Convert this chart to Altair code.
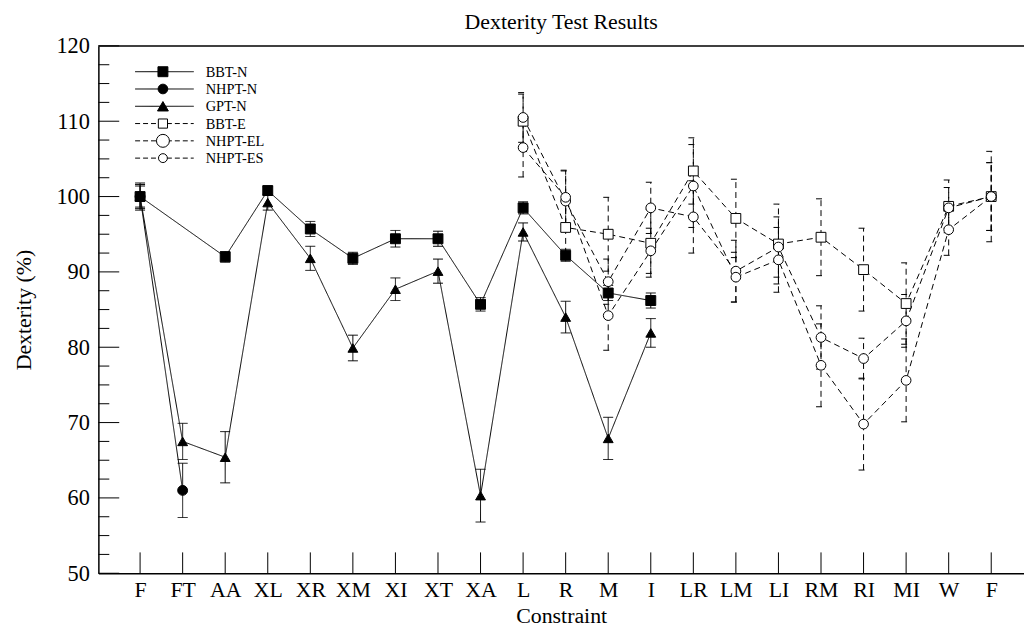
import altair as alt
import pandas as pd

# ---------------- data ----------------
labels = ["F", "FT", "AA", "XL", "XR", "XM", "XI", "XT", "XA", "L", "R", "M", "I",
          "LR", "LM", "LI", "RM", "RI", "MI", "W", "F"]
series_names = ["BBT-N", "NHPT-N", "GPT-N", "BBT-E", "NHPT-EL", "NHPT-ES"]
N = None

bbt_n = [100.0, N, 92.0, 100.8, 95.7, 91.8, 94.4, 94.4, 85.7, 98.5, 92.2, 87.2, 86.2] + [N] * 8
bbt_n_err = [1.6, N, 0.7, 0.5, 1.0, 0.8, 1.1, 1.0, 0.9, 0.8, 0.8, 1.0, 1.0] + [N] * 8

nhpt_n = [100.0, 61.0] + [N] * 19
nhpt_n_err = [1.4, 3.6] + [N] * 19

gpt_n = [100.0, 67.5, 65.4, 99.2, 91.8, 79.9, 87.7, 90.1, 60.3, 95.3, 84.0, 67.9, 81.9] + [N] * 8
gpt_n_err = [1.8, 2.4, 3.4, 1.0, 1.6, 1.7, 1.5, 1.6, 3.5, 1.2, 2.1, 2.8, 1.9] + [N] * 8

bbt_e = [N] * 9 + [110.0, 95.9, 95.0, 93.8, 103.4, 97.1, 93.7, 94.6, 90.3, 85.8, 98.7, 100.0]
bbt_e_err = [N] * 9 + [3.6, 3.5, 4.9, 4.5, 4.4, 5.2, 5.3, 5.1, 5.5, 5.4, 3.5, 6.0]

nhpt_el = [N] * 9 + [110.5, 99.4, 88.7, 98.5, 97.3, 90.1, 93.3, 81.3, 78.5, 83.5, 98.5, 100.0]
nhpt_el_err = [N] * 9 + [3.3, 4.0, 3.0, 3.4, 4.8, 4.1, 4.0, 4.2, 2.7, 3.5, 2.7, 4.5]

nhpt_es = [N] * 9 + [106.5, 99.9, 84.2, 92.8, 101.4, 89.3, 91.6, 77.6, 69.8, 75.6, 95.6, 100.0]
nhpt_es_err = [N] * 9 + [3.9, 3.6, 4.6, 3.0, 5.5, 3.3, 4.3, 5.5, 6.1, 5.5, 3.4, 4.5]

y_major = [50, 60, 70, 80, 90, 100, 110, 120]
y_minor = [v / 2 for v in range(100, 240, 5) if (v / 2) % 10 != 0]

# ---------------- styles ----------------
FONT = "Liberation Serif"
W, H = 932, 531
shapes = ["square", "circle", "triangle-up", "square", "circle", "circle"]
fills = ["black", "black", "black", "white", "white", "white"]
sizes = [100, 95, 120, 85, 170, 80]
line_dash = [[1, 0], [1, 0], [1, 0], [6, 4], [6, 4], [6, 4]]
err_dash = [[1, 0], [1, 0], [1, 0], [2, 1], [2, 1], [2, 1]]

vals = [bbt_n, nhpt_n, gpt_n, bbt_e, nhpt_el, nhpt_es]
errs = [bbt_n_err, nhpt_n_err, gpt_n_err, bbt_e_err, nhpt_el_err, nhpt_es_err]
rows = []
for name, vs, es in zip(series_names, vals, errs):
    for i, (v, e) in enumerate(zip(vs, es)):
        if v is None:
            continue
        rows.append({"series": name, "idx": i, "value": v,
                     "lo": v - e, "hi": v + e})
df = pd.DataFrame(rows)

xscale = alt.Scale(domain=[-0.98, 20.77], nice=False, zero=False)
yscale = alt.Scale(domain=[50, 120], nice=False, zero=False)
label_expr = "[" + ",".join("'%s'" % l for l in labels) + "][datum.value]"

x_axis = alt.Axis(values=list(range(len(labels))), labelExpr=label_expr, ticks=False,
                  grid=False, domainColor="black", domainWidth=1.5, labelFont=FONT,
                  labelFontSize=22, labelColor="black", labelPadding=6, labelOverlap=False,
                  labelFlush=False, title="Constraint", titleFont=FONT, titleFontSize=22,
                  titleFontWeight="normal", titleColor="black", titlePadding=6)
y_axis = alt.Axis(values=y_major, ticks=False, grid=False, domainColor="black",
                  domainWidth=1.5, labelFont=FONT, labelFontSize=22.5, labelColor="black",
                  labelPadding=9, labelFlush=False, title="Dexterity (%)", titleFont=FONT,
                  titleFontSize=22, titleFontWeight="normal", titleColor="black",
                  titlePadding=21)


def X(field):
    return alt.X(field + ":Q", scale=xscale, axis=x_axis, title="Constraint")


def Y(field):
    return alt.Y(field + ":Q", scale=yscale, axis=y_axis, title="Dexterity (%)")


sdom = series_names
base = alt.Chart(df)

lines = base.mark_line(color="black", strokeWidth=1).encode(
    x=X("idx"),
    y=Y("value"),
    detail="series:N",
    order="idx:Q",
    strokeDash=alt.StrokeDash("series:N", scale=alt.Scale(domain=sdom, range=line_dash), legend=None),
)

err_rules = base.mark_rule(color="black", strokeWidth=1).encode(
    x=X("idx"),
    y=Y("lo"),
    y2="hi:Q",
    strokeDash=alt.StrokeDash("series:N", scale=alt.Scale(domain=sdom, range=err_dash), legend=None),
)


def cap(field):
    return base.mark_rule(color="black", strokeWidth=1, xOffset=-5, x2Offset=5).encode(
        x=X("idx"),
        x2="idx:Q",
        y=Y(field),
        strokeDash=alt.StrokeDash("series:N", scale=alt.Scale(domain=sdom, range=err_dash), legend=None),
    )


points = base.mark_point(filled=True, opacity=1, strokeWidth=1).encode(
    x=X("idx"),
    y=Y("value"),
    shape=alt.Shape("series:N", scale=alt.Scale(domain=sdom, range=shapes), legend=None),
    fill=alt.Fill("series:N", scale=alt.Scale(domain=sdom, range=fills), legend=None),
    size=alt.Size("series:N", scale=alt.Scale(domain=sdom, range=sizes), legend=None),
    stroke=alt.value("black"),
)

# inward ticks
xt = alt.Chart(pd.DataFrame({"idx": list(range(len(labels)))})).mark_rule(
    color="black", strokeWidth=1).encode(
    x=X("idx"), y=alt.value(H - 21), y2=alt.value(H))
ymaj = alt.Chart(pd.DataFrame({"v": y_major})).mark_rule(color="black", strokeWidth=1).encode(
    y=Y("v"), x=alt.value(0), x2=alt.value(21))
ymin = alt.Chart(pd.DataFrame({"v": y_minor})).mark_rule(color="black", strokeWidth=1).encode(
    y=Y("v"), x=alt.value(0), x2=alt.value(11))
top = alt.Chart(pd.DataFrame({"v": [120]})).mark_rule(color="black", strokeWidth=1.5).encode(
    y=Y("v"), x=alt.value(0), x2=alt.value(W))

# manual legend
legend_layers = []
for i, name in enumerate(series_names):
    ly = 26 + 17.4 * i
    d = alt.Data(values=[{"name": name}])
    legend_layers.append(alt.Chart(d).mark_rule(color="black", strokeWidth=1,
                                                 strokeDash=[5, 3] if i >= 3 else [1, 0]).encode(
        x=alt.value(37), x2=alt.value(96), y=alt.value(ly)))
    legend_layers.append(alt.Chart(d).mark_point(filled=True, opacity=1, shape=shapes[i],
                                                 size=sizes[i], fill=fills[i], stroke="black",
                                                 strokeWidth=1).encode(
        x=alt.value(65), y=alt.value(ly)))
    legend_layers.append(alt.Chart(d).mark_text(align="left", baseline="middle", font=FONT,
                                                fontSize=14.5, color="black").encode(
        x=alt.value(108), y=alt.value(ly + 1), text="name:N"))

chart = alt.layer(
    lines, err_rules, cap("lo"), cap("hi"), points, xt, ymaj, ymin, top, *legend_layers
).properties(
    width=W, height=H,
    title=alt.TitleParams("Dexterity Test Results", font=FONT, fontSize=22,
                          fontWeight="normal", anchor="middle", color="black", offset=1),
    autosize=alt.AutoSizeParams(type="none"),
    padding={"left": 91, "top": 36, "right": 0, "bottom": 56},
).configure_view(stroke=None)

chart.save("out.html", embed_options={"renderer": "svg", "actions": False})
